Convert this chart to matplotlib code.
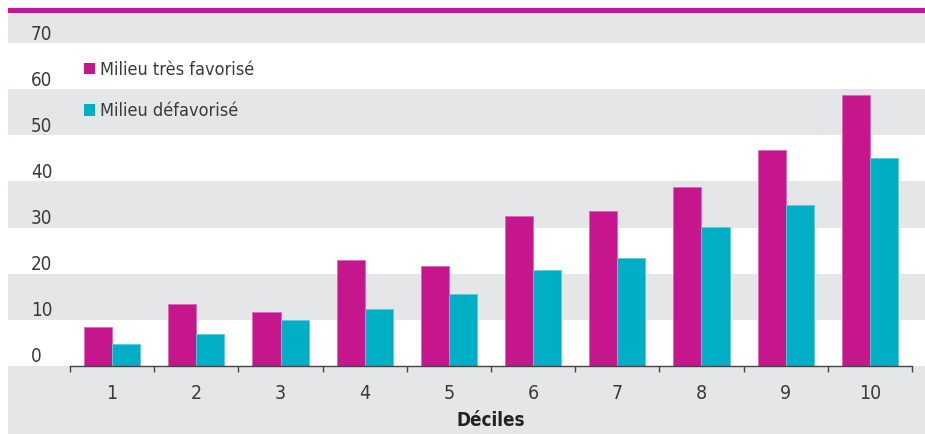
import matplotlib
matplotlib.use("Agg")
import matplotlib.pyplot as plt
import matplotlib.transforms as mtransforms
from matplotlib import font_manager
from matplotlib.patches import Patch
import numpy as np

deciles = ["1", "2", "3", "4", "5", "6", "7", "8", "9", "10"]
tres_favorise = [8.5, 13.3, 11.6, 22.9, 21.6, 32.5, 33.5, 38.7, 46.9, 58.8]
defavorise = [4.7, 6.9, 9.9, 12.4, 15.5, 20.7, 23.4, 30.2, 34.8, 45.0]
series_labels = ["Milieu très favorisé", "Milieu défavorisé"]
yticks = [0, 10, 20, 30, 40, 50, 60, 70]
xlabel = "Déciles"

MAGENTA = "#C5168B"
CYAN = "#00AFC3"
GREY = "#E5E6E8"
TEXT = "#3a3a3a"

# pick a condensed font if one is installed
names = {f.name for f in font_manager.fontManager.ttflist}
cond_dejavu = [f for f in font_manager.fontManager.ttflist
               if f.name == "DejaVu Sans" and "ondensed" in str(f.stretch) + f.fname]
if "Liberation Sans Narrow" in names:
    FAMILY, STRETCH = "Liberation Sans Narrow", "normal"
elif cond_dejavu:
    FAMILY, STRETCH = "DejaVu Sans", "condensed"
else:
    FAMILY, STRETCH = "Liberation Sans", "normal"
plt.rcParams["font.family"] = [FAMILY, "DejaVu Sans"]
plt.rcParams["font.stretch"] = STRETCH

W, H = 925, 434
fig = plt.figure(figsize=(W / 100, H / 100), dpi=100)
fig.patch.set_facecolor("white")

ax = fig.add_axes([8 / W, 0, (W - 8) / W, (H - 8) / H])
ax.set_facecolor("white")

n = len(deciles)
x = np.arange(1, n + 1)
grp_px = 84.2
left_px = 112.1  # centre of first group
ax.set_xlim(1 - (left_px - 8) / grp_px, 1 + (W - left_px) / grp_px)

zero_px = 365.7
ppu = 4.606
ax.set_ylim(-(H - zero_px) / ppu, (zero_px - 8) / ppu)
top_band = (zero_px - 13) / ppu

ax.axhspan(ax.get_ylim()[0], 0, color=GREY, zorder=0, lw=0)
for lo in [10, 30, 50, 70]:
    ax.axhspan(lo, min(lo + 10, top_band), color=GREY, zorder=0, lw=0)
ax.axhspan(top_band, ax.get_ylim()[1], color=MAGENTA, zorder=0, lw=0)

bw = 1 / 3
ax.bar(x - bw / 2, tres_favorise, width=bw, color=MAGENTA, edgecolor="#d86cb2",
       linewidth=0.6, zorder=3, label=series_labels[0])
ax.bar(x + bw / 2, defavorise, width=bw, color=CYAN, edgecolor="#5ccad6",
       linewidth=0.6, zorder=3, label=series_labels[1])

for s in ["top", "right", "left"]:
    ax.spines[s].set_visible(False)
ax.spines["bottom"].set_position(("data", 0))
ax.spines["bottom"].set_bounds(0.5, n + 0.5)
ax.spines["bottom"].set_color("#444444")
ax.spines["bottom"].set_linewidth(1.0)
ax.spines["bottom"].set_zorder(4)

ax.set_xticks(np.arange(0.5, n + 1.5, 1.0))
ax.set_xticklabels([])
ax.tick_params(axis="x", which="major", direction="out", length=4, width=1,
               color="#444444")
ax.set_xticks(x, minor=True)
ax.set_xticklabels(deciles, minor=True)
ax.tick_params(axis="x", which="minor", length=0, pad=13, labelsize=14,
               labelcolor=TEXT)
ax.set_yticks([])

trans = mtransforms.blended_transform_factory(fig.transFigure, ax.transData)
for v in yticks:
    ax.text(31 / W, v - 0.05, str(v), transform=trans, ha="left", va="bottom",
            fontsize=13.5, color=TEXT)

transx = mtransforms.blended_transform_factory(ax.transData, fig.transFigure)
ax.text((n + 1) / 2, 1 - 420 / H, xlabel, transform=transx, ha="center",
        va="center", fontsize=13.5, fontweight="bold", color="#222222")

handles = [Patch(facecolor=MAGENTA, edgecolor="none"),
           Patch(facecolor=CYAN, edgecolor="none")]
leg = ax.legend(handles, series_labels, loc="upper left",
                bbox_to_anchor=(84 / W, 1 - 61 / H), bbox_transform=fig.transFigure,
                frameon=False, fontsize=13, handlelength=0.6, handleheight=0.6,
                handletextpad=0.3, labelspacing=1.3, borderpad=0, borderaxespad=0)
for t in leg.get_texts():
    t.set_color(TEXT)

fig.savefig("out.png", dpi=100, facecolor="white")
